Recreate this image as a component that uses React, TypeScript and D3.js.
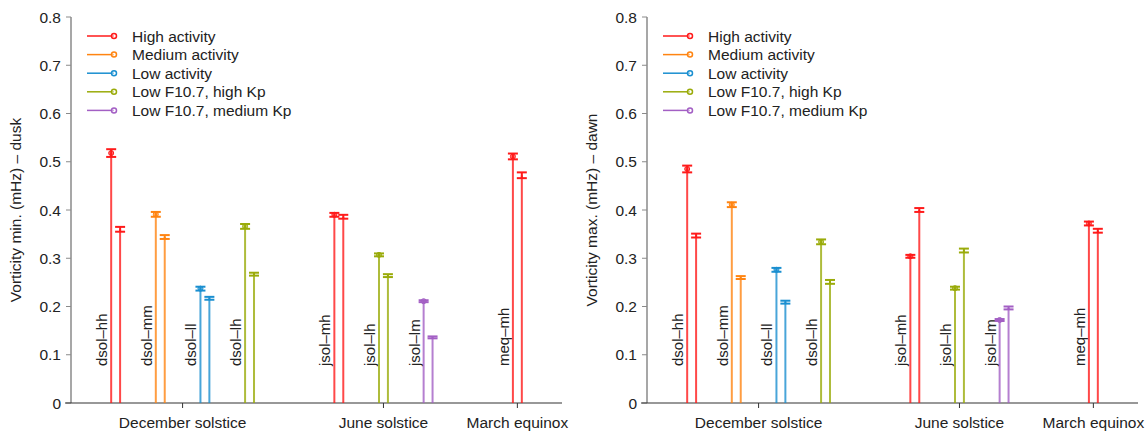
import React from "react";
import * as d3 from "d3";

// pair labels and their slot on the shared x scale
const pairs = ["dsol–hh", "dsol–mm", "dsol–ll", "dsol–lh", "jsol–mh", "jsol–lh", "jsol–lm", "meq–mh"];
const pairSlots = [1, 2, 3, 4, 6, 7, 8, 10];
const pairSeries = [0, 1, 2, 3, 0, 3, 4, 0];

const seasons = ["December solstice", "June solstice", "March equinox"];
const seasonSlots = [2.5, 7, 10];

const seriesNames = ["High activity", "Medium activity", "Low activity", "Low F10.7, high Kp", "Low F10.7, medium Kp"];
const seriesColors = ["#ff1a1a", "#ff8411", "#1a8fd0", "#9aab0a", "#a35fc4"];

// [first, second] value per pair
const duskMin = [[0.518, 0.36], [0.391, 0.344], [0.237, 0.217], [0.366, 0.267], [0.39, 0.386], [0.307, 0.264], [0.211, 0.136], [0.511, 0.472]];
const duskErr = [[0.008, 0.005], [0.005, 0.004], [0.004, 0.003], [0.005, 0.003], [0.004, 0.004], [0.003, 0.003], [0.002, 0.002], [0.006, 0.006]];
const dawnMax = [[0.485, 0.347], [0.411, 0.26], [0.276, 0.209], [0.334, 0.251], [0.304, 0.4], [0.238, 0.316], [0.172, 0.197], [0.372, 0.357]];
const dawnErr = [[0.007, 0.004], [0.005, 0.003], [0.004, 0.003], [0.005, 0.004], [0.003, 0.004], [0.003, 0.004], [0.002, 0.003], [0.004, 0.004]];

const yTicks = [0, 0.1, 0.2, 0.3, 0.4, 0.5, 0.6, 0.7, 0.8];

const FONT = "'Liberation Sans', Arial, sans-serif";
const TEXT = "#222";
const FS = 15.5;

interface PanelProps {
  left: number;
  values: number[][];
  errors: number[][];
  ylabel: string;
}

const Panel: React.FC<PanelProps> = ({ left, values, errors, ylabel }) => {
  const x = d3.scaleLinear().domain([0, 11]).range([left, left + 491]);
  const y = d3.scaleLinear().domain([0, 0.8]).range([403, 17]);
  const off = 0.1;

  return (
    <g fontFamily={FONT} fill={TEXT}>
      {/* y label */}
      <text
        transform={`translate(${left - 50},${(y(0) + y(0.8)) / 2}) rotate(-90)`}
        textAnchor="middle"
        fontSize={FS}
      >
        {ylabel}
      </text>
      {/* y axis */}
      <line x1={left} x2={left} y1={y(0)} y2={y(0.8)} stroke="#8a8a8a" strokeWidth={1.5} />
      {yTicks.map((t) => (
        <g key={t}>
          <line x1={left - 5} x2={left} y1={y(t)} y2={y(t)} stroke="#8a8a8a" strokeWidth={1} />
          <text x={left - 10} y={y(t) + 5.5} textAnchor="end" fontSize={FS}>
            {t === 0 ? "0" : d3.format(".1f")(t)}
          </text>
        </g>
      ))}
      {/* x axis */}
      <line x1={left - 6} x2={x(11)} y1={y(0)} y2={y(0)} stroke="#333" strokeWidth={1.2} />
      {seasons.map((s, i) => (
        <g key={s}>
          <line x1={x(seasonSlots[i])} x2={x(seasonSlots[i])} y1={y(0)} y2={y(0) + 5} stroke="#333" strokeWidth={1} />
          <text x={x(seasonSlots[i])} y={428} textAnchor="middle" fontSize={FS}>
            {s}
          </text>
        </g>
      ))}
      {/* stems */}
      {pairs.map((p, i) => {
        const color = seriesColors[pairSeries[i]];
        const xs = [x(pairSlots[i] - off), x(pairSlots[i] + off)];
        return (
          <g key={p}>
            <text
              transform={`translate(${xs[0] - 4},${y(0) - 37}) rotate(-90)`}
              fontSize={15}
              fill={TEXT}
            >
              {p}
            </text>
            {xs.map((cx, k) => {
              const v = values[i][k];
              const e = errors[i][k];
              return (
                <g key={k}>
                  <line x1={cx} x2={cx} y1={y(0)} y2={y(v)} stroke={color} strokeOpacity={0.8} strokeWidth={2} />
                  <line x1={cx} x2={cx} y1={y(v - e)} y2={y(v + e)} stroke={color} strokeWidth={2} />
                  <line x1={cx - 5} x2={cx + 5} y1={y(v + e)} y2={y(v + e)} stroke={color} strokeWidth={2} />
                  <line x1={cx - 5} x2={cx + 5} y1={y(v - e)} y2={y(v - e)} stroke={color} strokeWidth={2} />
                  {k === 0 && <circle cx={cx} cy={y(v)} r={2.5} fill={color} fillOpacity={0.6} stroke={color} strokeWidth={1} />}
                </g>
              );
            })}
          </g>
        );
      })}
      {/* legend */}
      {seriesNames.map((n, i) => {
        const ly = 36 + i * 18.6;
        return (
          <g key={n}>
            <line x1={left + 16} x2={left + 43} y1={ly} y2={ly} stroke={seriesColors[i]} strokeWidth={1.5} />
            <circle cx={left + 43} cy={ly} r={2.5} fill="#fff" fillOpacity={0.5} stroke={seriesColors[i]} strokeWidth={1.5} />
            <text x={left + 61} y={ly + 5.5} fontSize={FS}>
              {n}
            </text>
          </g>
        );
      })}
    </g>
  );
};

export default function App() {
  return (
    <svg
      width={1147}
      height={432}
      style={{ position: "absolute", left: 0, top: 0, background: "#fff" }}
    >
      <Panel left={71} values={duskMin} errors={duskErr} ylabel="Vorticity min. (mHz) – dusk" />
      <Panel left={647} values={dawnMax} errors={dawnErr} ylabel="Vorticity max. (mHz) – dawn" />
    </svg>
  );
}
